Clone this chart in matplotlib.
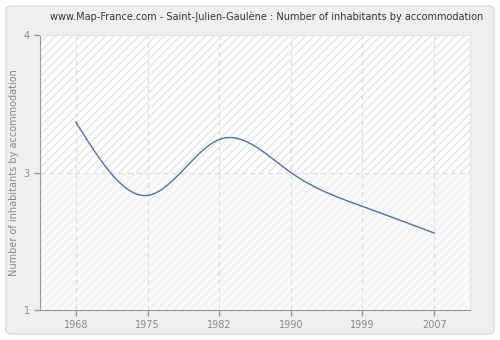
import numpy as np
import matplotlib
matplotlib.use("Agg")
import matplotlib.pyplot as plt
from matplotlib.patches import Rectangle, FancyBboxPatch

years = ["1968", "1975", "1982", "1990", "1999", "2007"]
inhabitants = [3.05, 2.25, 2.86, 2.5, 2.13, 1.84]
y_ticks = [1, 2.5, 4]
y_tick_labels = ["1", "3", "4"]


def natural_spline(x, y, n=300):
    # natural cubic spline through the points, second derivative zero at the ends
    x = np.asarray(x, float)
    y = np.asarray(y, float)
    k = len(x)
    h = np.diff(x)
    A = np.zeros((k, k))
    b = np.zeros(k)
    A[0, 0] = A[-1, -1] = 1
    for i in range(1, k - 1):
        A[i, i - 1] = h[i - 1]
        A[i, i] = 2 * (h[i - 1] + h[i])
        A[i, i + 1] = h[i]
        b[i] = 6 * ((y[i + 1] - y[i]) / h[i] - (y[i] - y[i - 1]) / h[i - 1])
    m = np.linalg.solve(A, b)
    xs = np.linspace(x[0], x[-1], n)
    ys = np.empty_like(xs)
    for j, t in enumerate(xs):
        i = min(np.searchsorted(x, t, side="right") - 1, k - 2)
        a, c = x[i], x[i + 1]
        hi = c - a
        ys[j] = (m[i] * (c - t) ** 3 / (6 * hi) + m[i + 1] * (t - a) ** 3 / (6 * hi)
                 + (y[i] / hi - m[i] * hi / 6) * (c - t)
                 + (y[i + 1] / hi - m[i + 1] * hi / 6) * (t - a))
    return xs, ys


fig = plt.figure(figsize=(5, 3.4), dpi=100)
fig.patch.set_facecolor("white")
frame = FancyBboxPatch((6 / 500, 6 / 340), 488 / 500, 328 / 340,
                       boxstyle="round,pad=0,rounding_size=0.012",
                       transform=fig.transFigure, facecolor="#efefef",
                       edgecolor="#dcdcdc", linewidth=1)
frame.set_zorder(-10)
fig.add_artist(frame)

ax = fig.add_axes([40 / 500, 1 - 310 / 340, 430 / 500, 275 / 340])
ax.set_facecolor("white")
x = np.arange(len(years))
ax.set_xlim(-0.5, len(years) - 0.5)
ax.set_ylim(1, 4)

# hatched background, stronger above the middle line
ax.add_patch(Rectangle((-0.5, 2.5), len(years), 1.5, facecolor="white",
                       edgecolor="#e6e6e6", hatch="////", linewidth=0, zorder=0))
ax.add_patch(Rectangle((-0.5, 1), len(years), 1.5, facecolor="#fafafa",
                       edgecolor="#f0f0f0", hatch="////", linewidth=0, zorder=0))

for xi in x:
    ax.axvline(xi, color="#dddddd", linestyle=(0, (4, 3)), linewidth=0.9, zorder=1)
ax.axhline(2.5, color="#dddddd", linestyle=(0, (4, 3)), linewidth=0.9, zorder=1)

xs, ys = natural_spline(x, inhabitants)
ax.plot(xs, ys, color="#4a74ad", linewidth=1.0, zorder=3)

ax.set_xticks(x)
ax.set_xticklabels(years)
ax.set_yticks(y_ticks)
ax.set_yticklabels(y_tick_labels)
ax.tick_params(colors="#999999", labelcolor="#888888", labelsize=7, length=4, width=1)
for side in ["left", "bottom"]:
    ax.spines[side].set_color("#999999")
for side in ["top", "right"]:
    ax.spines[side].set_color("#e4e4e4")

ax.set_ylabel("Number of inhabitants by accommodation", color="#888888", fontsize=7)
ax.yaxis.set_label_coords(-21 / 430, 0.5)
fig.text(267 / 500, 1 - 17 / 340,
         "www.Map-France.com - Saint-Julien-Gaulène : Number of inhabitants by accommodation",
         ha="center", va="center", fontsize=7, color="#333333")

fig.savefig("out.png", dpi=100, facecolor=fig.get_facecolor())
